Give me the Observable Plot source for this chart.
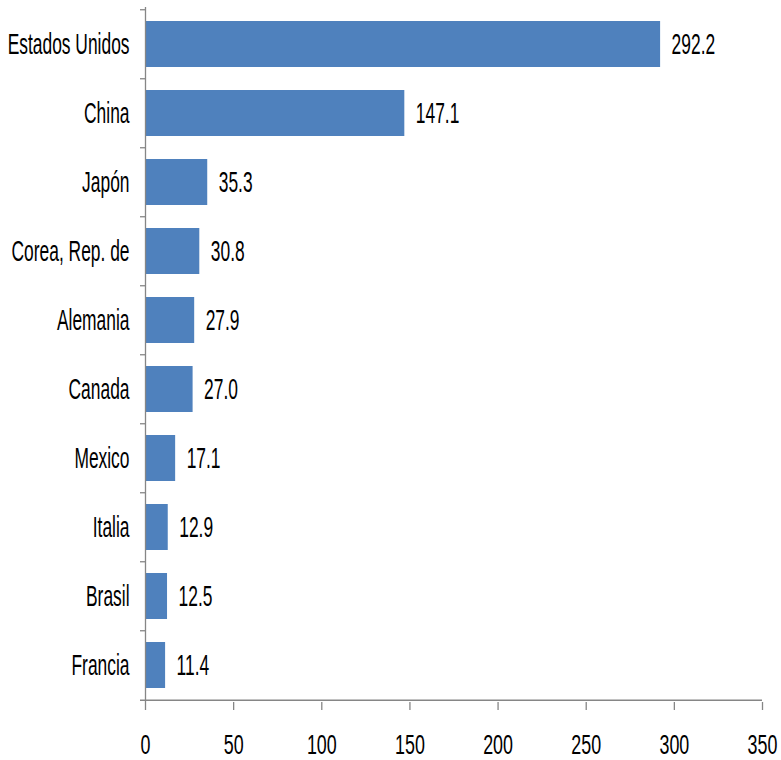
<!DOCTYPE html>
<html>
<head>
<meta charset="utf-8">
<script src="https://cdn.jsdelivr.net/npm/d3@7"></script>
<script src="https://cdn.jsdelivr.net/npm/@observablehq/plot@0.6"></script>
<style>
  html, body { margin: 0; padding: 0; background: #fff; }
</style>
</head>
<body>
<div id="chart"></div>
<script>
const countries = ["Estados Unidos", "China", "Japón", "Corea, Rep. de", "Alemania", "Canada", "Mexico", "Italia", "Brasil", "Francia"];
const values = [292.2, 147.1, 35.3, 30.8, 27.9, 27.0, 17.1, 12.9, 12.5, 11.4];
const xTicks = [0, 50, 100, 150, 200, 250, 300, 350];

const data = countries.map((c, i) => ({country: c, value: values[i]}));

const W = 781, H = 760;
const mTop = 7, mBottom = 58, mLeft = 145, mRight = 19;
const step = (H - mTop - mBottom) / countries.length;
const axisColor = "#868686";
const barColor = "#4F81BD";
const tickUnits = 5 * 350 / (W - mLeft - mRight);

const chart = Plot.plot({
  width: W,
  height: H,
  marginTop: mTop,
  marginBottom: mBottom,
  marginLeft: mLeft,
  marginRight: mRight,
  style: {fontFamily: "'Liberation Sans', Arial, sans-serif", fontSize: "29px", color: "#000", background: "#fff"},
  x: {domain: [0, 350]},
  y: {domain: countries, paddingInner: 0.335, paddingOuter: 0.1675},
  marks: [
    Plot.barX(data, {x: "value", y: "country", fill: barColor}),
    Plot.text(data, {x: "value", y: "country", text: d => d.value.toFixed(1), textAnchor: "start", dx: 11, fill: "#000"}),
    Plot.ruleX([0], {stroke: axisColor, strokeWidth: 1.3}),
    Plot.ruleY(countries, {y: d => d, x1: -tickUnits, x2: 0, dy: -step / 2, stroke: axisColor, strokeWidth: 1.3}),
    Plot.ruleY(countries.slice(-1), {y: d => d, x1: -tickUnits, x2: 350, dy: step / 2, stroke: axisColor, strokeWidth: 1.3}),
    Plot.axisX({ticks: xTicks, tickSize: 8, tickPadding: 24, fontSize: 27.5, stroke: axisColor, strokeWidth: 1.3, tickFormat: d => String(d), fill: "#000", label: null}),
    Plot.axisY({tickSize: 0, tickPadding: 16, fill: "#000", label: null})
  ]
});

document.getElementById("chart").appendChild(chart);

// Compress text horizontally (about each text's anchor) to mimic the condensed face of the original
chart.querySelectorAll("text").forEach(el => {
  const isX = el.closest("g[aria-label='x-axis tick label']") !== null;
  const sx = isX ? 0.65 : 0.6;
  const t = el.getAttribute("transform") || "";
  el.setAttribute("transform", `${t} scale(${sx},1)`);
});
</script>
</body>
</html>
